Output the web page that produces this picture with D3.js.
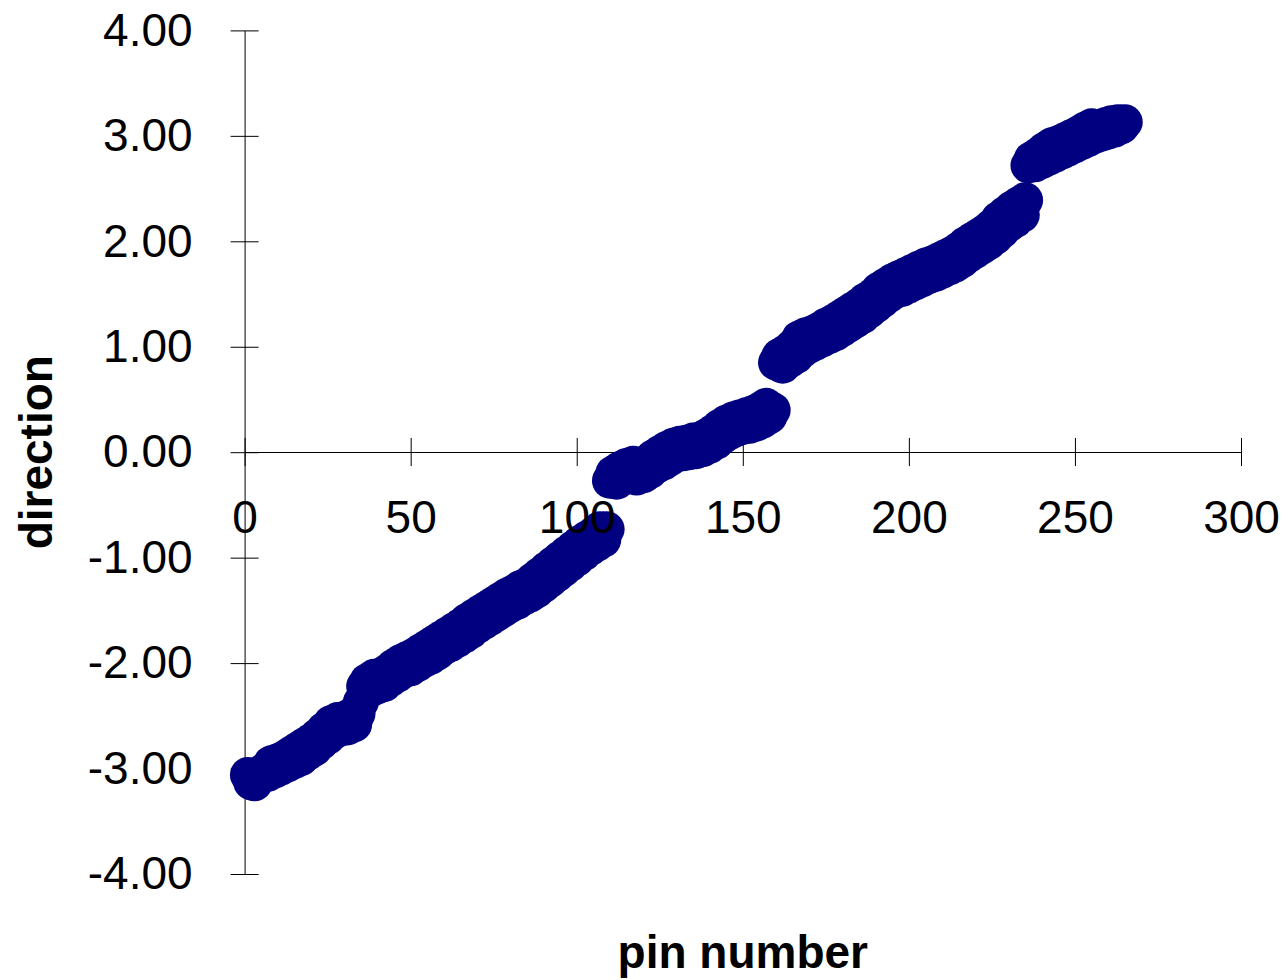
<!DOCTYPE html>
<html>
<head>
<meta charset="utf-8">
<script src="https://cdn.jsdelivr.net/npm/d3@7"></script>
<style>
  html, body { margin: 0; padding: 0; background: #fff; }
  svg { display: block; font-family: "Liberation Sans", Arial, sans-serif; }
</style>
</head>
<body>
<svg id="chart" width="1285" height="980"></svg>
<script>
// Pin numbers and measured direction (radians) per pin
const pins = d3.range(1, 266);
const direction = [
  -3.06, -3.13, -3.14, -3.07, -3.04, -3.02, -3.05, -2.95, -3.02, -2.93,
  -2.99, -2.90, -2.96, -2.86, -2.93, -2.82, -2.90, -2.78, -2.85, -2.74,
  -2.81, -2.69, -2.75, -2.63, -2.70, -2.57, -2.65, -2.54, -2.62, -2.53,
  -2.61, -2.50, -2.58, -2.48, -2.37, -2.22, -2.17, -2.25, -2.13, -2.22,
  -2.12, -2.20, -2.08, -2.15, -2.03, -2.11, -1.99, -2.07, -1.96, -2.05,
  -1.93, -2.01, -1.89, -1.97, -1.85, -1.94, -1.81, -1.90, -1.77, -1.85,
  -1.73, -1.82, -1.69, -1.78, -1.65, -1.74, -1.60, -1.70, -1.56, -1.65,
  -1.52, -1.61, -1.48, -1.57, -1.44, -1.53, -1.40, -1.49, -1.36, -1.45,
  -1.33, -1.42, -1.29, -1.38, -1.26, -1.35, -1.21, -1.31, -1.16, -1.26,
  -1.11, -1.21, -1.06, -1.16, -1.01, -1.11, -0.96, -1.06, -0.91, -1.01,
  -0.86, -0.96, -0.82, -0.91, -0.78, -0.87, -0.73, -0.83, -0.73, -0.27,
  -0.20, -0.28, -0.16, -0.24, -0.13, -0.21, -0.11, -0.24, -0.14, -0.22,
  -0.10, -0.18, -0.05, -0.13, -0.01, -0.10, 0.03, -0.06, 0.06, -0.02,
  0.08, -0.01, 0.09, 0.00, 0.11, 0.01, 0.12, 0.03, 0.15, 0.06,
  0.19, 0.10, 0.24, 0.15, 0.28, 0.19, 0.31, 0.22, 0.33, 0.24,
  0.35, 0.25, 0.37, 0.27, 0.40, 0.30, 0.44, 0.34, 0.40, 0.85,
  0.91, 0.82, 0.95, 0.87, 1.00, 0.91, 1.08, 0.97, 1.11, 1.01,
  1.13, 1.04, 1.16, 1.07, 1.20, 1.10, 1.23, 1.13, 1.27, 1.17,
  1.31, 1.21, 1.35, 1.25, 1.39, 1.29, 1.44, 1.34, 1.48, 1.39,
  1.54, 1.44, 1.58, 1.49, 1.62, 1.53, 1.65, 1.55, 1.68, 1.58,
  1.71, 1.61, 1.74, 1.64, 1.77, 1.67, 1.79, 1.69, 1.82, 1.72,
  1.85, 1.75, 1.88, 1.78, 1.92, 1.82, 1.97, 1.87, 2.01, 1.91,
  2.05, 1.95, 2.09, 1.99, 2.14, 2.04, 2.21, 2.10, 2.26, 2.16,
  2.31, 2.20, 2.35, 2.25, 2.39, 2.72, 2.78, 2.73, 2.82, 2.76,
  2.87, 2.79, 2.91, 2.82, 2.93, 2.85, 2.96, 2.88, 2.99, 2.91,
  3.02, 2.94, 3.06, 2.97, 3.09, 3.00, 3.07, 3.02, 3.10, 3.04,
  3.12, 3.06, 3.13, 3.09, 3.13
];
const xTicks = [0, 50, 100, 150, 200, 250, 300];
const yTicks = [-4, -3, -2, -1, 0, 1, 2, 3, 4];

const svg = d3.select("#chart");
const x = d3.scaleLinear().domain([0, 300]).range([244.6, 1241]);
const y = d3.scaleLinear().domain([-4, 4]).range([874, 30.4]);
const x0 = x(0), y0 = Math.round(y(0));

// Axis lines and crossing tick marks
const yAxisLines = svg.append("g")
  .attr("transform", `translate(${x0},0)`)
  .call(d3.axisLeft(y).tickValues(yTicks).tickSizeOuter(0).tickFormat(""));
yAxisLines.selectAll(".tick line").attr("x1", -14).attr("x2", 14).attr("stroke", "#000");
yAxisLines.select(".domain").attr("stroke", "#000");

const xAxisLines = svg.append("g")
  .attr("transform", `translate(0,${y0})`)
  .call(d3.axisBottom(x).tickValues(xTicks).tickSizeOuter(0).tickFormat(""));
xAxisLines.selectAll(".tick line").attr("y1", -14).attr("y2", 14).attr("stroke", "#000");
xAxisLines.select(".domain").attr("stroke", "#000");

// Data markers
svg.append("g").selectAll("circle")
  .data(pins.map((p, i) => [p, direction[i]]))
  .join("circle")
  .attr("cx", d => x(d[0]))
  .attr("cy", d => y(d[1]))
  .attr("r", 18)
  .attr("fill", "#000080");

// Tick labels drawn above the markers (plain hyphen for negatives)
const yLabels = svg.append("g")
  .attr("transform", `translate(${x0},0)`)
  .call(d3.axisLeft(y).tickValues(yTicks).tickSize(0).tickPadding(52).tickFormat(d => d.toFixed(2)));
yLabels.select(".domain").remove();
yLabels.selectAll("text")
  .attr("font-size", 46).attr("font-family", "Liberation Sans, Arial, sans-serif")
  .attr("fill", "#000").attr("dy", "0.32em");

const xLabels = svg.append("g")
  .attr("transform", `translate(0,${y0})`)
  .call(d3.axisBottom(x).tickValues(xTicks).tickSize(0).tickFormat(d => String(d)));
xLabels.select(".domain").remove();
xLabels.selectAll("text")
  .attr("font-size", 46).attr("font-family", "Liberation Sans, Arial, sans-serif")
  .attr("fill", "#000").attr("y", 81).attr("dy", 0);

// Axis titles
svg.append("text")
  .attr("transform", `translate(52,${y(0)}) rotate(-90)`)
  .attr("text-anchor", "middle")
  .attr("font-size", 46).attr("font-weight", "bold")
  .text("direction");

svg.append("text")
  .attr("x", x(150)).attr("y", 968)
  .attr("text-anchor", "middle")
  .attr("font-size", 46).attr("font-weight", "bold")
  .text("pin number");
</script>
</body>
</html>
